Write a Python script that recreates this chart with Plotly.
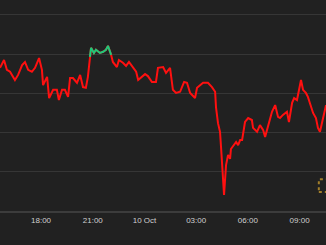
import plotly.graph_objects as go

times = [
    "2023-10-09 15:37", "2023-10-09 15:51", "2023-10-09 16:01", "2023-10-09 16:12", "2023-10-09 16:29",
    "2023-10-09 16:40", "2023-10-09 16:54", "2023-10-09 17:04", "2023-10-09 17:15", "2023-10-09 17:28",
    "2023-10-09 17:39", "2023-10-09 17:53", "2023-10-09 18:03", "2023-10-09 18:07", "2023-10-09 18:21",
    "2023-10-09 18:28", "2023-10-09 18:42", "2023-10-09 18:55", "2023-10-09 19:02", "2023-10-09 19:13",
    "2023-10-09 19:23", "2023-10-09 19:34", "2023-10-09 19:41", "2023-10-09 19:51", "2023-10-09 20:05",
    "2023-10-09 20:16", "2023-10-09 20:26", "2023-10-09 20:36", "2023-10-09 20:43", "2023-10-09 20:50",
    "2023-10-09 20:54", "2023-10-09 21:04", "2023-10-09 21:11", "2023-10-09 21:25", "2023-10-09 21:36",
    "2023-10-09 21:46", "2023-10-09 21:53", "2023-10-09 22:04", "2023-10-09 22:10", "2023-10-09 22:24",
    "2023-10-09 22:31", "2023-10-09 22:45", "2023-10-09 22:56", "2023-10-09 23:06", "2023-10-09 23:20",
    "2023-10-09 23:31", "2023-10-09 23:38", "2023-10-09 23:51", "2023-10-10 00:02", "2023-10-10 00:12",
    "2023-10-10 00:26", "2023-10-10 00:40", "2023-10-10 00:47", "2023-10-10 01:05", "2023-10-10 01:15",
    "2023-10-10 01:29", "2023-10-10 01:39", "2023-10-10 01:50", "2023-10-10 02:04", "2023-10-10 02:18",
    "2023-10-10 02:28", "2023-10-10 02:39", "2023-10-10 02:46", "2023-10-10 02:56", "2023-10-10 03:03",
    "2023-10-10 03:13", "2023-10-10 03:24", "2023-10-10 03:41", "2023-10-10 03:55", "2023-10-10 04:06",
    "2023-10-10 04:09", "2023-10-10 04:16", "2023-10-10 04:23", "2023-10-10 04:27", "2023-10-10 04:34",
    "2023-10-10 04:37", "2023-10-10 04:40", "2023-10-10 04:44", "2023-10-10 04:51", "2023-10-10 04:58",
    "2023-10-10 05:01", "2023-10-10 05:12", "2023-10-10 05:19", "2023-10-10 05:26", "2023-10-10 05:33",
    "2023-10-10 05:40", "2023-10-10 05:50", "2023-10-10 06:01", "2023-10-10 06:14", "2023-10-10 06:18",
    "2023-10-10 06:32", "2023-10-10 06:42", "2023-10-10 06:53", "2023-10-10 07:00", "2023-10-10 07:10",
    "2023-10-10 07:24", "2023-10-10 07:35", "2023-10-10 07:45", "2023-10-10 07:52", "2023-10-10 08:02",
    "2023-10-10 08:16", "2023-10-10 08:23", "2023-10-10 08:34", "2023-10-10 08:41", "2023-10-10 08:51",
    "2023-10-10 08:58", "2023-10-10 09:05", "2023-10-10 09:12", "2023-10-10 09:22", "2023-10-10 09:29",
    "2023-10-10 09:40", "2023-10-10 09:47", "2023-10-10 09:57", "2023-10-10 10:04", "2023-10-10 10:11",
    "2023-10-10 10:18", "2023-10-10 10:29", "2023-10-10 10:32",
]

prices = [
    27565, 27585, 27560, 27555, 27534, 27547, 27572, 27580, 27560, 27555,
    27565, 27590, 27560, 27521, 27542, 27488, 27509, 27509, 27483, 27509,
    27509, 27491, 27539, 27539, 27527, 27547, 27516, 27514, 27542, 27593,
    27616, 27603, 27611, 27603, 27606, 27611, 27621, 27598, 27580, 27567,
    27585, 27578, 27570, 27580, 27567, 27555, 27534, 27542, 27549, 27544,
    27529, 27529, 27565, 27567, 27552, 27565, 27509, 27501, 27504, 27529,
    27527, 27501, 27496, 27488, 27514, 27521, 27527, 27527, 27516, 27504,
    27465, 27424, 27402, 27358, 27292, 27241, 27274, 27317, 27343, 27333,
    27358, 27368, 27376, 27368, 27381, 27381, 27427, 27437, 27432, 27412,
    27402, 27419, 27407, 27389, 27419, 27453, 27470, 27440, 27437, 27445,
    27453, 27427, 27476, 27488, 27483, 27514, 27534, 27509, 27501, 27491,
    27465, 27450, 27437, 27412, 27402, 27424, 27465, 27470,
]

reference_price = 27592

tick_values = ["2023-10-09 18:00", "2023-10-09 21:00", "2023-10-10 00:00",
               "2023-10-10 03:00", "2023-10-10 06:00", "2023-10-10 09:00"]
tick_labels = ["18:00", "21:00", "10 Oct", "03:00", "06:00", "09:00"]

x_range = ["2023-10-09 15:37", "2023-10-10 10:32"]
y_range = [27200, 27738]

green = [p if p >= reference_price else None for p in prices]

fig = go.Figure()
fig.add_trace(go.Scatter(x=times, y=prices, mode="lines",
                         line=dict(color="#ff1010", width=2), hoverinfo="skip"))
fig.add_trace(go.Scatter(x=times, y=green, mode="lines", connectgaps=False,
                         line=dict(color="#1ec87a", width=2), hoverinfo="skip"))

fig.update_layout(
    width=326, height=245,
    margin=dict(l=0, r=0, t=0, b=34),
    paper_bgcolor="#212121", plot_bgcolor="#212121",
    showlegend=False,
    xaxis=dict(range=x_range, tickvals=tick_values, ticktext=tick_labels,
               showgrid=False, zeroline=False, showline=True,
               linecolor="#3c3c3c", linewidth=2, ticks="",
               tickfont=dict(family="Liberation Sans", size=8, color="#cfcfcf")),
    yaxis=dict(range=y_range, tick0=27200, dtick=100, showticklabels=False,
               showgrid=True, gridcolor="#363636", gridwidth=1, zeroline=False),
)

# small watermark glyph bottom-right
fig.add_shape(type="rect", xref="paper", yref="paper",
              x0=0.978, x1=1.02, y0=0.09, y1=0.15,
              line=dict(color="#a27f2a", width=2, dash="dot"))

fig.write_html("out.html")
